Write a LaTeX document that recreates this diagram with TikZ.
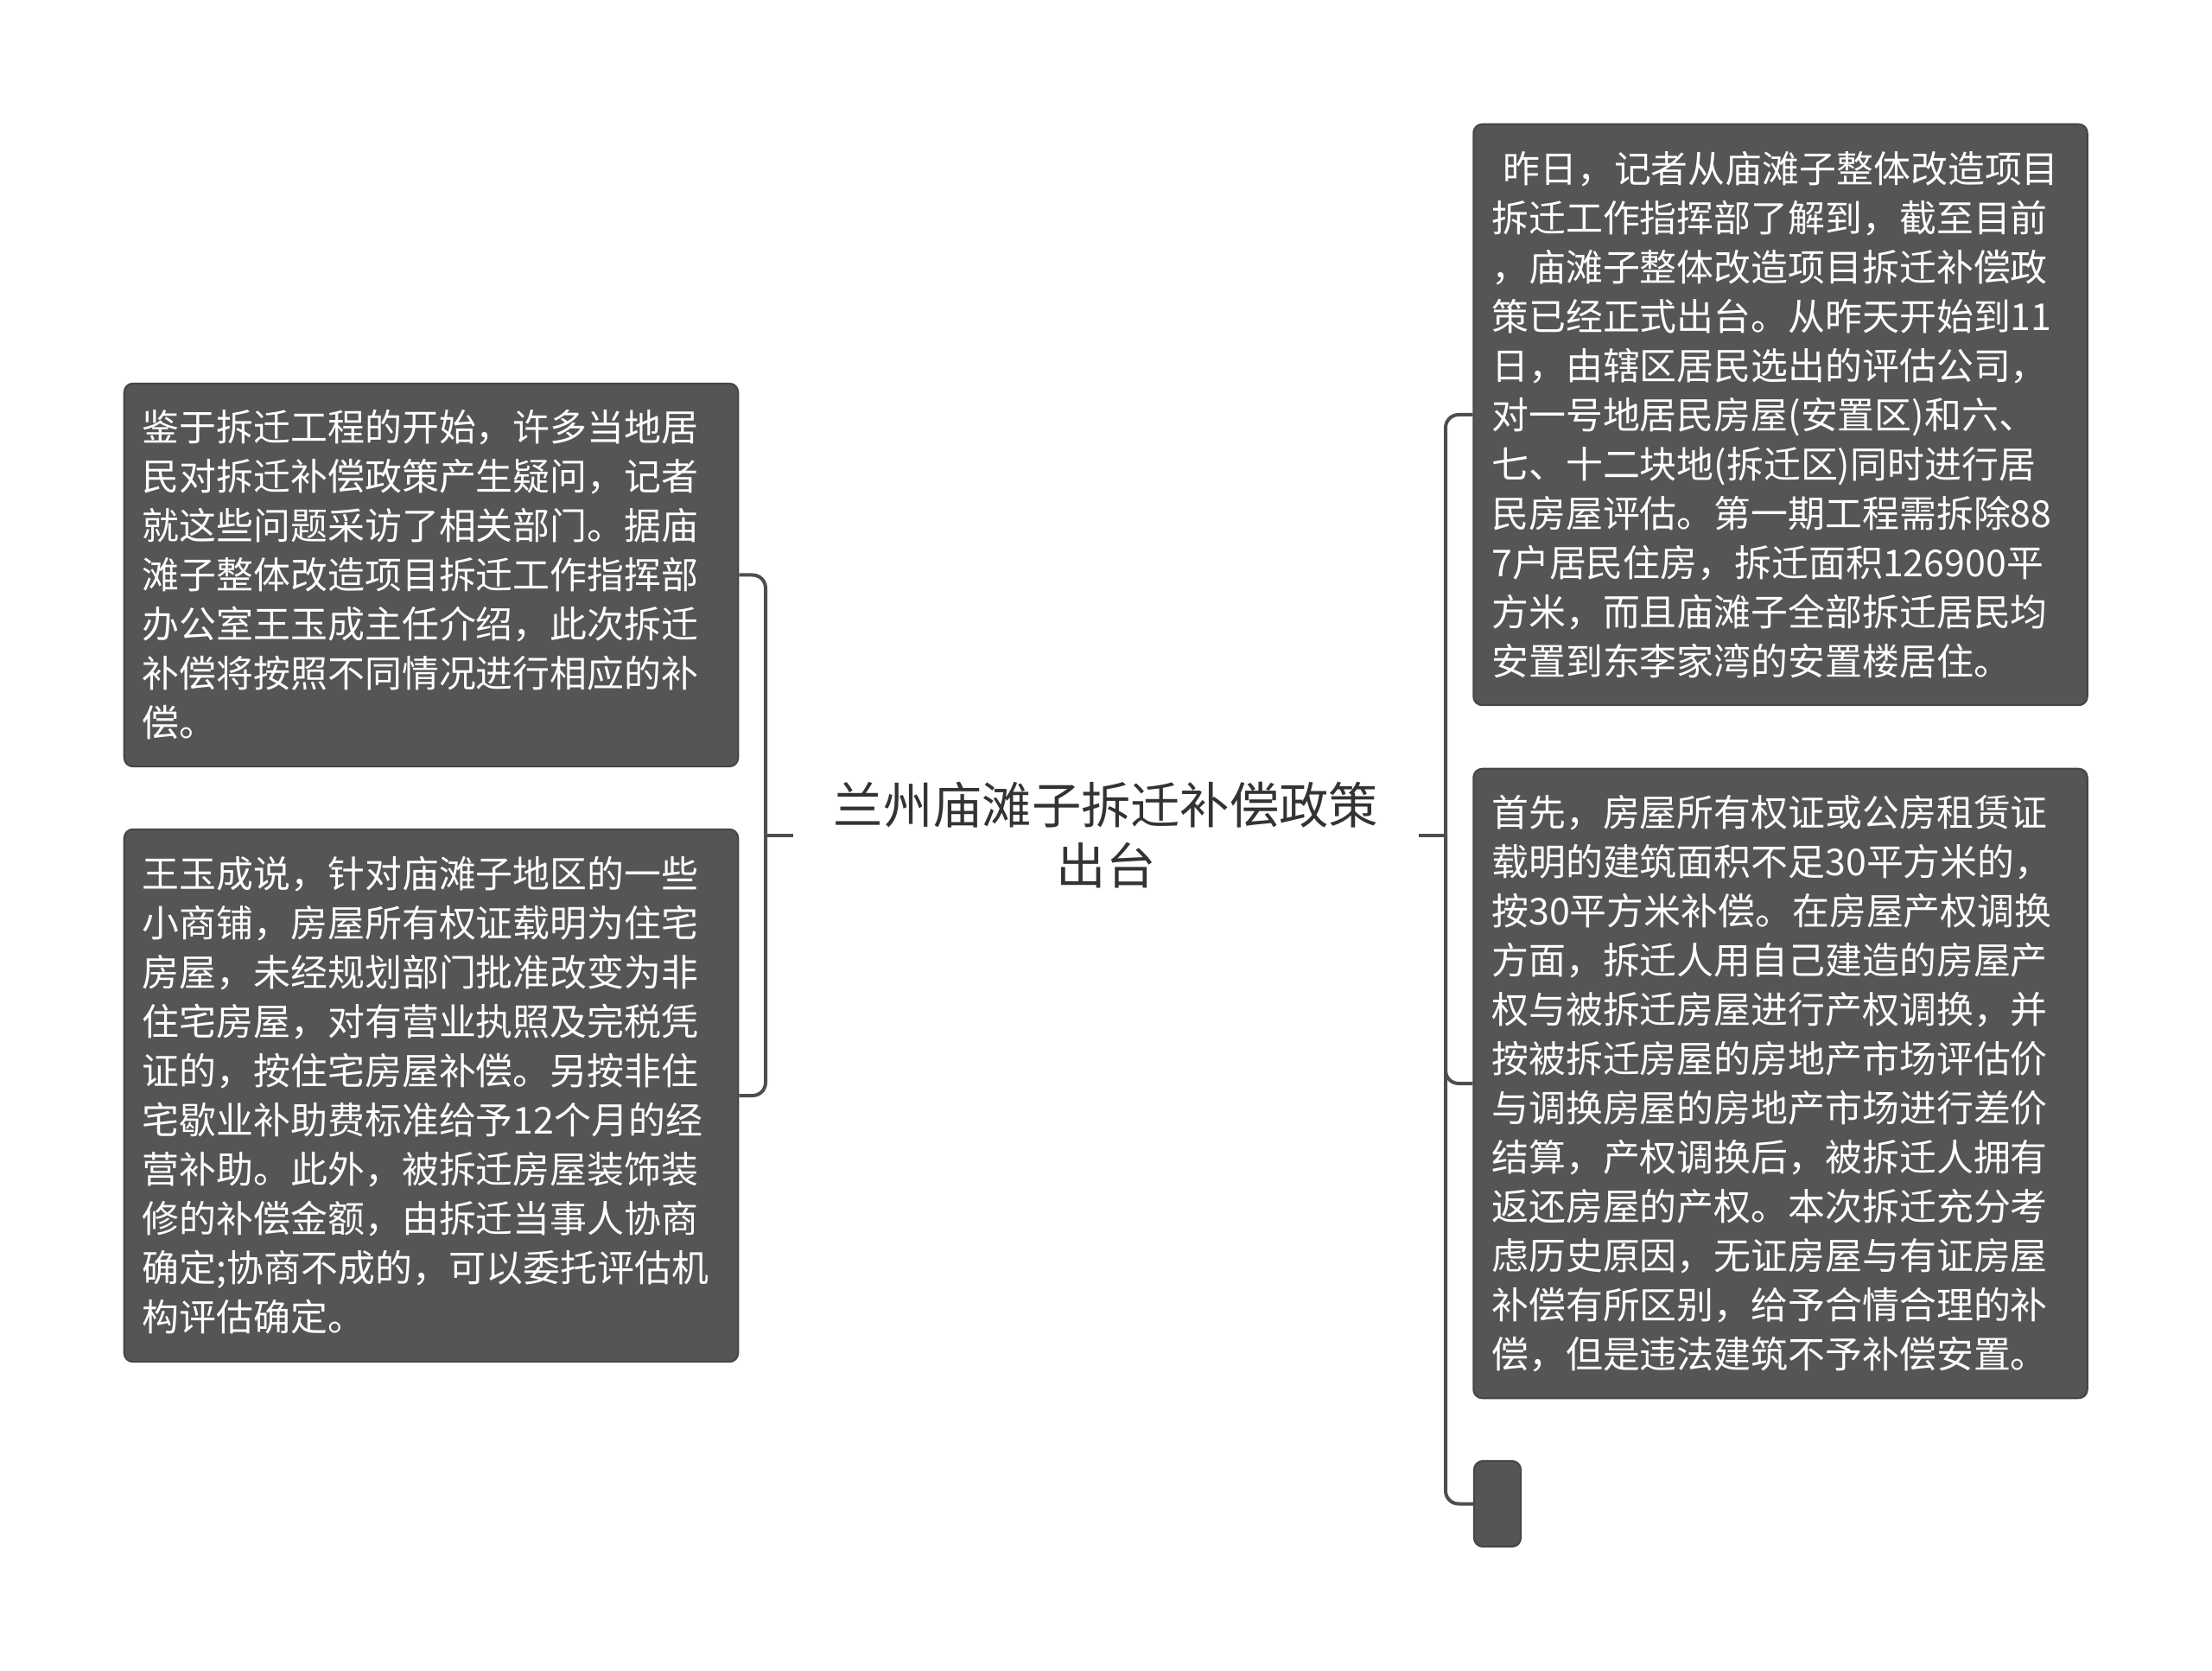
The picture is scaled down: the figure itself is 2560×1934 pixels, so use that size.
\documentclass[tikz,border=0pt]{standalone}
\usepackage{fontspec}
\setmainfont{Noto Sans CJK SC}
\usepackage{tikz}
\usetikzlibrary{positioning,calc}
\definecolor{leaffill}{HTML}{555555}
\definecolor{leafline}{HTML}{464646}
\definecolor{branch}{HTML}{4E4E4E}
\definecolor{titletext}{HTML}{333333}

\begin{document}
\begin{tikzpicture}[x=0.01cm,y=-0.01cm,
    leaf/.style={draw=leafline, line width=0.6pt, fill=leaffill, rounded corners=0.1cm,
        text=white, align=left, text width=6.68cm, inner xsep=0.21cm, inner ysep=0pt,
        font=\fontsize{12.2}{16.2}\selectfont},
    conn/.style={draw=branch, line width=0.04cm, rounded corners=0.15cm}]
    \useasboundingbox (0,0) rectangle (2560,1934);
    % central topic
    \node[align=center, text=titletext, inner xsep=0.46cm, font=\fontsize{16.3}{19.9}\selectfont] (topic) at (1280,967)
        {兰州庙滩子拆迁补偿政策\\出台};
    % left side
    \node[leaf, minimum height=4.43cm] (left1) at (499,665.5)
        {鉴于拆迁工程的开始，许多当地居\\民对拆迁补偿政策产生疑问，记者\\就这些问题采访了相关部门。据庙\\滩子整体改造项目拆迁工作指挥部\\办公室王玉成主任介绍，此次拆迁\\补偿将按照不同情况进行相应的补\\偿。};
    \node[leaf, minimum height=6.16cm] (left2) at (499,1268)
        {王玉成说，针对庙滩子地区的一些\\小商铺，房屋所有权证载明为住宅\\房屋，未经规划部门批准改变为非\\住宅房屋，对有营业执照及完税凭\\证的，按住宅房屋补偿。另按非住\\宅歇业补助费标准给予12个月的经\\营补助。此外，被拆迁房屋装饰装\\修的补偿金额，由拆迁当事人协商\\确定;协商不成的，可以委托评估机\\构评估确定。};
    % right side
    \node[leaf, minimum height=6.72cm] (right1) at (2060.5,480)
        {\hspace*{0.13cm}昨日，记者从庙滩子整体改造项目\\拆迁工作指挥部了解到，截至目前\\，庙滩子整体改造项目拆迁补偿政\\策已经正式出台。从昨天开始到11\\日，由辖区居民选出的评估公司，\\对一号地居民房屋(安置区)和六、\\七、十二块地(拆迁区)同时进行居\\民房屋评估。第一期工程需拆除88\\7户居民住房，拆迁面积126900平\\方米，而且庙滩子全部拆迁居民均\\安置到东李家湾的安置楼居住。};
    \node[leaf, minimum height=7.28cm] (right2) at (2060.5,1254)
        {首先，房屋所有权证或公房租赁证\\载明的建筑面积不足30平方米的，\\按30平方米补偿。在房屋产权调换\\方面，拆迁人用自己建造的房屋产\\权与被拆迁房屋进行产权调换，并\\按被拆迁房屋的房地产市场评估价\\与调换房屋的房地产市场进行差价\\结算，产权调换后，被拆迁人拥有\\返还房屋的产权。本次拆迁充分考\\虑历史原因，无证房屋与有证房屋\\补偿有所区别，给予合情合理的补\\偿，但是违法建筑不予补偿安置。};
    \node[leaf, text width=0.12cm, minimum width=0.54cm, minimum height=0.99cm] (right3) at (1733,1740.5) {};
    % branches
    \coordinate (lspine) at (886,967);
    \coordinate (rspine) at (1673,967);
    \draw[conn] (topic.west) -- (lspine);
    \draw[conn] (lspine) |- (left1.east);
    \draw[conn] (lspine) |- (left2.east);
    \draw[conn] (topic.east) -- (rspine);
    \draw[conn] (rspine) |- (right1.west);
    \draw[conn] (rspine) |- (right2.west);
    \draw[conn] (rspine) |- (right3.west);
\end{tikzpicture}
\end{document}
